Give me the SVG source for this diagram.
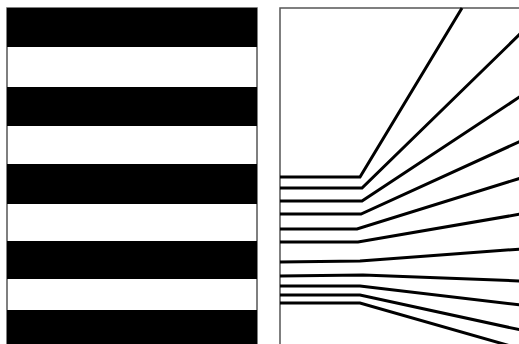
<svg xmlns="http://www.w3.org/2000/svg" width="519" height="344" viewBox="0 0 519 344">
<style>
.stripe{fill:#000}
.frame{fill:none;stroke:#555;stroke-width:1.5}
.fan{fill:none;stroke:#000;stroke-width:3;stroke-linejoin:miter}
</style>
<rect width="519" height="344" fill="#fff"/>
<g id="stripes">
<rect class="frame" x="7" y="8" width="250" height="340"/>
<rect class="stripe" x="7" y="8" width="250" height="39"/>
<rect class="stripe" x="7" y="87" width="250" height="39"/>
<rect class="stripe" x="7" y="164" width="250" height="40"/>
<rect class="stripe" x="7" y="241" width="250" height="38"/>
<rect class="stripe" x="7" y="310" width="250" height="36"/>
</g>
<g id="fan-panel">
<rect class="frame" x="280" y="8" width="245" height="345"/>
<polyline class="fan" points="280,177 360,177 462,8"/>
<polyline class="fan" points="280,188 362,188 521,33"/>
<polyline class="fan" points="280,201 362,201 521,96"/>
<polyline class="fan" points="280,214 361,214 521,141"/>
<polyline class="fan" points="280,229 357,229 521,178"/>
<polyline class="fan" points="280,242 358,242 521,214"/>
<polyline class="fan" points="280,262 360,261 521,249"/>
<polyline class="fan" points="280,276 363,275 521,281"/>
<polyline class="fan" points="280,286 360,286 521,305"/>
<polyline class="fan" points="280,295 360,295 521,330"/>
<polyline class="fan" points="280,303 360,303 521,349"/>
</g>
</svg>
